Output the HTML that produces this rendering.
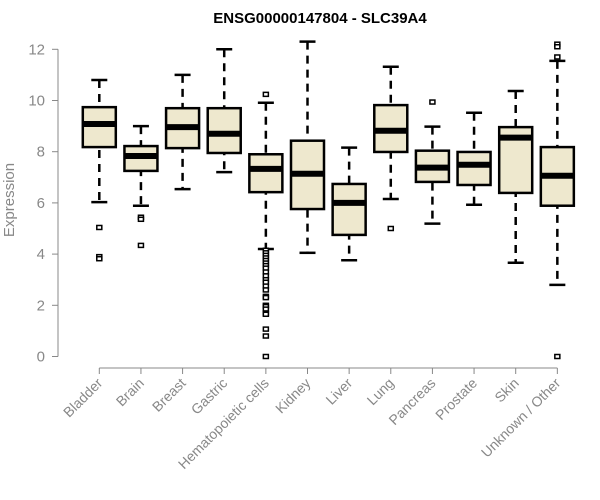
<!DOCTYPE html>
<html><head><meta charset="utf-8"><style>
body{margin:0;background:#fff}
svg{display:block;font-family:"Liberation Sans",Arial,sans-serif}
</style></head><body>
<svg id="chart" width="600" height="500">
<text x="320" y="23" text-anchor="middle" font-weight="bold" font-size="15">ENSG00000147804 - SLC39A4</text>
<text transform="translate(14,200) rotate(-90)" text-anchor="middle" font-size="15" fill="#888">Expression</text>
<g id="plot"></g>
</svg>
<script>
const categories=["Bladder","Brain","Breast","Gastric","Hematopoietic cells","Kidney","Liver","Lung","Pancreas","Prostate","Skin","Unknown / Other"];
const lowWhisker=[6.03,5.89,6.54,7.2,4.2,4.05,3.76,6.15,5.19,5.93,3.66,2.8];
const q1=[8.18,7.25,8.14,7.95,6.42,5.76,4.75,7.99,6.82,6.7,6.39,5.89];
const median=[9.08,7.83,8.96,8.7,7.33,7.14,6.0,8.82,7.38,7.49,8.55,7.06];
const q3=[9.74,8.22,9.7,9.7,7.9,8.43,6.74,9.82,8.04,7.99,8.96,8.18];
const highWhisker=[10.8,9.0,11.0,12.0,9.91,12.3,8.16,11.32,8.98,9.52,10.37,11.55];
const outliers=[[5.04,3.9,3.82],[5.44,5.36,4.34],[],[],
[10.24,4.15,4.05,3.95,3.85,3.75,3.65,3.55,3.45,3.3,3.15,3.0,2.9,2.75,2.6,2.35,2.3,2.0,1.95,1.85,1.7,1.65,1.07,0.8,0],
[],[],[5.0],[9.94],[],[],[12.2,12.1,11.7,0]];
const yTicks=[0,2,4,6,8,10,12];

const NS="http://www.w3.org/2000/svg";
const g=document.getElementById('plot');
const y=v=>356.5-v*25.6;
const x=i=>99.3+i*41.64;
function mk(t,a){const e=document.createElementNS(NS,t);for(const k in a)e.setAttribute(k,a[k]);g.appendChild(e);return e;}
// y axis
let ya=mk('line',{x1:58,x2:58,y1:y(0),y2:y(12),stroke:'#888','stroke-width':1});


yTicks.forEach(v=>{
 let t=mk('line',{x1:52,x2:58,y1:y(v),y2:y(v),stroke:'#888'});
 
 
 let l=mk('text',{x:45,y:y(v)+5,'text-anchor':'end','font-size':15,fill:'#888'});
 l.textContent=v;
 
 
});
let xa=mk('line',{x1:x(0),x2:x(11),y1:368,y2:368,stroke:'#888'});


categories.forEach((c,i)=>{
 const cx=x(i),w=16.5;
 let t=mk('line',{x1:cx,x2:cx,y1:368,y2:374,stroke:'#888'});
 
 
 let l=mk('text',{x:0,y:0,'text-anchor':'end','font-size':14,fill:'#888',transform:`translate(${cx+4},${384}) rotate(-45)`});
 l.textContent=c;
 
 
 let wh=mk('line',{x1:cx,x2:cx,y1:y(highWhisker[i]),y2:y(lowWhisker[i]),stroke:'#000','stroke-width':2.5,'stroke-dasharray':'8,6'});
 
 
 [highWhisker[i],lowWhisker[i]].forEach(v=>{
  let c2=mk('line',{x1:cx-8,x2:cx+8,y1:y(v),y2:y(v),stroke:'#000','stroke-width':2.5});
  
  
 });
 let b=mk('rect',{x:cx-w,y:y(q3[i]),width:2*w,height:y(q1[i])-y(q3[i]),fill:'#EEE8CE',stroke:'#000','stroke-width':2.5});
 
 
 let m=mk('line',{x1:cx-w,x2:cx+w,y1:y(median[i]),y2:y(median[i]),stroke:'#000','stroke-width':6});
 
 
 outliers[i].forEach(v=>{
  let o=mk('rect',{x:cx-2.5,y:y(v)-2,width:5,height:4,fill:'#fff',stroke:'#000','stroke-width':1.5});
  
  
 });
});
</script>
</body></html>
